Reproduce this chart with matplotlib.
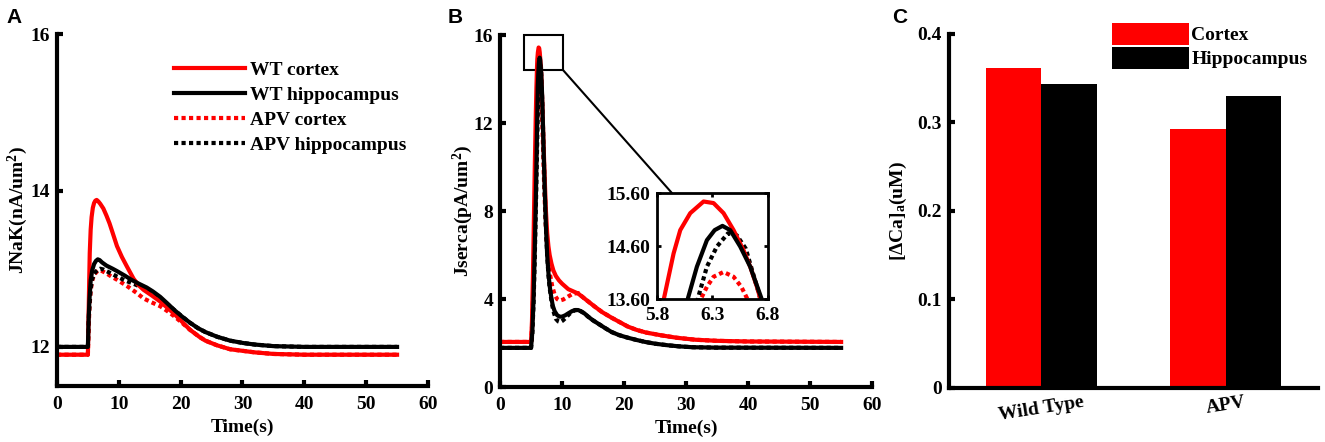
import numpy as np
import matplotlib
matplotlib.use("Agg")
import matplotlib.pyplot as plt
from matplotlib.patches import Rectangle, ConnectionPatch

plt.rcParams["font.family"] = ["Liberation Serif", "DejaVu Serif"]
plt.rcParams["font.weight"] = "bold"
plt.rcParams["axes.labelweight"] = "bold"
plt.rcParams["mathtext.fontset"] = "custom"
plt.rcParams["mathtext.rm"] = "Liberation Serif:bold"
plt.rcParams["mathtext.bf"] = "Liberation Serif:bold"
plt.rcParams["mathtext.it"] = "Liberation Serif:italic:bold"

RED = "#ff0000"
BLACK = "#000000"

# ---------------------------------------------------------------- panel A data
a_wt_ctx_t = [0, 5.0, 5.1, 5.2, 5.3, 5.45, 5.6, 5.8, 6.0, 6.2, 6.42, 6.7, 7.0, 7.5, 8.0,
              8.5, 9.0, 9.7, 10.5, 11.3, 12.4, 13.2, 14.0, 15.3, 16.7, 18.0, 19.0, 20.0,
              21.5, 23.0, 24.0, 25.9, 28.0, 30.0, 32.0, 35.0, 40.0, 55.0]
a_wt_ctx_y = [11.9, 11.9, 12.35, 12.8, 13.2, 13.5, 13.66, 13.78, 13.84, 13.87, 13.88, 13.86,
              13.83, 13.77, 13.68, 13.58, 13.46, 13.29, 13.15, 13.03, 12.87, 12.79, 12.73,
              12.66, 12.58, 12.49, 12.42, 12.34, 12.22, 12.13, 12.08, 12.02, 11.97, 11.95,
              11.93, 11.91, 11.9, 11.9]

a_wt_hip_t = [0, 5.0, 5.1, 5.25, 5.45, 5.7, 6.0, 6.3, 6.6, 6.9, 7.3, 8.0, 9.0, 9.7, 11.0,
              12.0, 13.2, 14.5, 15.5, 16.7, 17.8, 19.0, 20.2, 21.5, 22.8, 24.0, 25.9, 28.0,
              30.1, 32.0, 35.0, 40.0, 55.0]
a_wt_hip_y = [12.0, 12.0, 12.3, 12.6, 12.85, 12.98, 13.06, 13.1, 13.12, 13.11, 13.08, 13.04,
              13.0, 12.97, 12.91, 12.86, 12.81, 12.76, 12.71, 12.64, 12.56, 12.47, 12.39,
              12.31, 12.24, 12.19, 12.13, 12.08, 12.05, 12.03, 12.01, 12.0, 12.0]

a_apv_ctx_t = [0, 5.0, 5.1, 5.25, 5.45, 5.7, 6.0, 6.4, 6.8, 7.3, 8.0, 9.0, 9.7, 11.3, 12.9,
               14.0, 15.3, 16.7, 18.0, 19.0, 20.2, 21.5, 23.0, 24.0, 25.9, 28.0, 30.0, 32.0,
               35.0, 40.0, 55.0]
a_apv_ctx_y = [11.9, 11.9, 12.2, 12.5, 12.72, 12.85, 12.92, 12.96, 12.98, 12.97, 12.94, 12.89,
               12.86, 12.78, 12.69, 12.62, 12.57, 12.52, 12.45, 12.39, 12.31, 12.22, 12.13,
               12.08, 12.02, 11.97, 11.95, 11.93, 11.91, 11.9, 11.9]

a_apv_hip_t = [0, 5.0, 5.1, 5.25, 5.45, 5.7, 6.0, 6.5, 7.0, 7.5, 8.0, 9.0, 9.7, 11.0, 12.0,
               13.2, 14.5, 15.5, 16.7, 17.8, 19.0, 20.2, 21.5, 22.8, 24.0, 25.9, 28.0, 30.1,
               32.0, 35.0, 40.0, 55.0]
a_apv_hip_y = [12.0, 12.0, 12.3, 12.55, 12.75, 12.87, 12.94, 12.98, 13.0, 12.99, 12.97, 12.93,
               12.9, 12.85, 12.82, 12.78, 12.74, 12.69, 12.62, 12.55, 12.47, 12.39, 12.31,
               12.24, 12.19, 12.13, 12.08, 12.05, 12.03, 12.01, 12.0, 12.0]

# ---------------------------------------------------------------- panel B data
b_wt_ctx_t = [0, 5.0, 5.15, 5.3, 5.45, 5.6, 5.75, 5.86, 5.95, 6.01, 6.1, 6.22, 6.31, 6.4,
              6.49, 6.58, 6.64, 6.71, 6.85, 7.0, 7.2, 7.4, 7.6, 7.8, 8.0, 8.3, 8.6, 9.0,
              9.5, 10.0, 11.0, 12.6, 13.5, 14.4, 15.3, 16.5, 18.0, 19.3, 20.6, 22.0, 23.5,
              26.0, 28.5, 31.5, 35.0, 40.0, 55.0]
b_wt_ctx_y = [2.05, 2.05, 3.0, 5.0, 7.5, 10.0, 12.2, 13.58, 14.46, 14.9, 15.22, 15.44, 15.41,
              15.22, 14.9, 14.52, 14.21, 13.77, 12.6, 11.2, 9.5, 8.0, 7.0, 6.4, 6.0, 5.6, 5.3,
              5.05, 4.85, 4.7, 4.45, 4.25, 4.05, 3.85, 3.65, 3.4, 3.15, 2.95, 2.75, 2.6,
              2.48, 2.35, 2.24, 2.15, 2.1, 2.07, 2.05]

b_wt_hip_t = [0, 5.0, 5.2, 5.4, 5.6, 5.8, 5.95, 6.08, 6.16, 6.25, 6.32, 6.39, 6.46, 6.55,
              6.64, 6.74, 6.85, 7.0, 7.2, 7.4, 7.6, 7.8, 8.0, 8.25, 8.5, 8.8, 9.2, 9.6, 10.0,
              10.5, 11.0, 11.6, 12.1, 12.6, 13.0, 13.6, 14.2, 15.0, 16.0, 17.0, 18.0, 19.2,
              20.5, 22.0, 23.4, 25.0, 27.0, 28.8, 31.0, 35.0, 55.0]
b_wt_hip_y = [1.78, 1.78, 2.5, 4.0, 6.3, 9.0, 11.5, 13.62, 14.21, 14.71, 14.9, 14.98, 14.9,
              14.59, 14.21, 13.62, 12.6, 11.0, 9.0, 7.3, 6.0, 5.2, 4.6, 4.1, 3.7, 3.45, 3.27,
              3.2, 3.2, 3.26, 3.35, 3.45, 3.5, 3.5, 3.45, 3.35, 3.2, 3.03, 2.85, 2.67, 2.5,
              2.36, 2.25, 2.14, 2.05, 1.97, 1.9, 1.85, 1.81, 1.79, 1.78]

b_apv_ctx_t = [0, 5.0, 5.2, 5.4, 5.6, 5.8, 6.0, 6.2, 6.25, 6.31, 6.4, 6.49, 6.56, 6.61, 6.75,
               6.9, 7.1, 7.3, 7.5, 7.75, 8.0, 8.4, 8.8, 9.2, 9.6, 10.2, 11.0, 11.8, 12.6,
               13.5, 14.4, 15.3, 16.5, 18.0, 19.3, 20.6, 22.0, 23.5, 26.0, 28.5, 31.5, 35.0,
               40.0, 55.0]
b_apv_ctx_y = [2.05, 2.05, 2.9, 4.8, 7.3, 9.8, 12.2, 13.62, 13.83, 14.02, 14.11, 14.02, 13.83,
               13.62, 12.6, 11.2, 9.3, 7.8, 6.7, 5.8, 5.2, 4.6, 4.2, 4.0, 3.93, 3.98, 4.12,
               4.25, 4.27, 4.05, 3.85, 3.65, 3.4, 3.15, 2.95, 2.75, 2.6, 2.48, 2.35, 2.24,
               2.15, 2.1, 2.07, 2.05]

b_apv_hip_t = [0, 5.0, 5.2, 5.4, 5.6, 5.8, 6.0, 6.17, 6.25, 6.34, 6.44, 6.52, 6.6, 6.73,
               6.85, 7.0, 7.2, 7.4, 7.6, 7.8, 8.0, 8.3, 8.6, 9.0, 9.4, 9.7, 10.1, 10.6, 11.1,
               11.6, 12.1, 12.6, 13.0, 13.6, 14.2, 15.0, 16.0, 17.0, 18.0, 19.2, 20.5, 22.0,
               23.4, 25.0, 27.0, 28.8, 31.0, 35.0, 55.0]
b_apv_hip_y = [1.78, 1.78, 2.4, 3.8, 5.9, 8.5, 11.3, 13.62, 14.21, 14.59, 14.84, 14.8, 14.55,
               13.62, 12.6, 11.0, 9.0, 7.3, 6.0, 5.1, 4.5, 3.9, 3.45, 3.1, 2.98, 2.95, 3.02,
               3.15, 3.3, 3.42, 3.5, 3.5, 3.45, 3.35, 3.2, 3.03, 2.85, 2.67, 2.5, 2.36, 2.25,
               2.14, 2.05, 1.97, 1.9, 1.85, 1.81, 1.79, 1.78]

# ---------------------------------------------------------------- panel C data
groups = ["Wild Type", "APV"]
cortex_vals = [0.362, 0.293]
hippo_vals = [0.343, 0.330]

LW = 3.0
DOT = (0, (1, 0.8))


def style_axes(ax, box=False, lw=3.0):
    for side in ["top", "right"]:
        ax.spines[side].set_visible(box)
    for sp in ax.spines.values():
        sp.set_linewidth(lw)
        sp.set_capstyle("projecting")
    ax.tick_params(direction="in", length=4, width=lw, labelsize=14, pad=5,
                   top=box, right=box)
    ax.tick_params(axis="x", pad=7)
    for lab in ax.get_xticklabels() + ax.get_yticklabels():
        lab.set_fontweight("bold")


def draw_traces(ax, series):
    # dotted (APV) first, solid (WT) drawn on top
    for t, y, color, ls, label in series:
        ax.plot(t, y, color=color, lw=LW, ls=ls, label=label)


fig = plt.figure(figsize=(13.25, 4.42), dpi=100)

# ---------------------------------------------------------------- A
ax_a = fig.add_axes([0.043, 0.1267, 0.280, 0.796])
draw_traces(ax_a, [
    (a_apv_ctx_t, a_apv_ctx_y, RED, DOT, "APV cortex"),
    (a_apv_hip_t, a_apv_hip_y, BLACK, DOT, "APV hippocampus"),
    (a_wt_ctx_t, a_wt_ctx_y, RED, "-", "WT cortex"),
    (a_wt_hip_t, a_wt_hip_y, BLACK, "-", "WT hippocampus"),
])
ax_a.set_xlim(0, 60)
ax_a.set_ylim(11.5, 16)
ax_a.set_xticks([0, 10, 20, 30, 40, 50, 60])
ax_a.set_yticks([12, 14, 16])
ax_a.set_xlabel("Time(s)", fontsize=14, labelpad=4)
ax_a.set_ylabel(r"JNaK(nA/um$^{\mathbf{2}}$)", fontsize=14, labelpad=0)
style_axes(ax_a)
h, l = ax_a.get_legend_handles_labels()
order = [2, 3, 0, 1]
ax_a.legend([h[i] for i in order], [l[i] for i in order], frameon=False,
            loc="upper left", bbox_to_anchor=(0.131, 0.862), bbox_transform=fig.transFigure,
            prop={"family": "Liberation Serif", "weight": "bold", "size": 14},
            handlelength=3.65, handletextpad=0.3, labelspacing=0.38, borderpad=0,
            borderaxespad=0)

# ---------------------------------------------------------------- B
b_series = [
    (b_apv_ctx_t, b_apv_ctx_y, RED, DOT, None),
    (b_apv_hip_t, b_apv_hip_y, BLACK, DOT, None),
    (b_wt_ctx_t, b_wt_ctx_y, RED, "-", None),
    (b_wt_hip_t, b_wt_hip_y, BLACK, "-", None),
]
ax_b = fig.add_axes([0.3774, 0.1244, 0.2808, 0.796])
draw_traces(ax_b, b_series)
ax_b.set_xlim(0, 60)
ax_b.set_ylim(0, 16)
ax_b.set_xticks([0, 10, 20, 30, 40, 50, 60])
ax_b.set_yticks([0, 4, 8, 12, 16])
ax_b.set_xlabel("Time(s)", fontsize=14, labelpad=4)
ax_b.set_ylabel(r"Jserca(pA/um$^{\mathbf{2}}$)", fontsize=14, labelpad=-1)
style_axes(ax_b)
ax_b.add_patch(Rectangle((3.9, 14.4), 6.3, 1.6, fill=False, ec=BLACK, lw=1.5, clip_on=False))

ax_in = fig.add_axes([0.4958, 0.3235, 0.0838, 0.2398])
draw_traces(ax_in, b_series)
ax_in.set_xlim(5.8, 6.8)
ax_in.set_ylim(13.6, 15.6)
ax_in.set_xticks([5.8, 6.3, 6.8])
ax_in.set_yticks([13.6, 14.6, 15.6])
ax_in.set_yticklabels(["13.60", "14.60", "15.60"])
style_axes(ax_in, box=True, lw=2.0)
ax_in.tick_params(labelsize=14, length=3)
ax_in.tick_params(axis="x", pad=6)
con = ConnectionPatch(xyA=(10.2, 14.4), coordsA=ax_b.transData,
                      xyB=(0.135, 1.0), coordsB=ax_in.transAxes,
                      color=BLACK, lw=1.5)
fig.add_artist(con)

# ---------------------------------------------------------------- C
ax_c = fig.add_axes([0.7162, 0.1222, 0.2785, 0.801])
x = np.arange(1, len(groups) + 1)
w = 0.3
ax_c.bar(x - w / 2, cortex_vals, w, color=RED, label="Cortex")
ax_c.bar(x + w / 2, hippo_vals, w, color=BLACK, label="Hippocampus")
ax_c.set_xlim(0.5, 2.5)
ax_c.set_ylim(0, 0.4)
ax_c.set_yticks([0, 0.1, 0.2, 0.3, 0.4])
ax_c.set_yticklabels(["0", "0.1", "0.2", "0.3", "0.4"])
ax_c.set_xticks(x)
ax_c.set_xticklabels(groups, rotation=9)
ax_c.set_ylabel(r"[$\Delta$Ca]$_{\mathrm{a}}$(uM)", fontsize=14, labelpad=6)
style_axes(ax_c)
ax_c.tick_params(axis="x", length=0, pad=4)
ax_c.legend(frameon=False, loc="upper left", bbox_to_anchor=(0.839, 0.948),
            bbox_transform=fig.transFigure,
            prop={"family": "Liberation Serif", "weight": "bold", "size": 14},
            handlelength=4.0, handleheight=1.35, handletextpad=0.1, labelspacing=0.1,
            borderpad=0, borderaxespad=0)

# panel letters
for letter, xpos in [("A", 0.005), ("B", 0.338), ("C", 0.673)]:
    fig.text(xpos, 0.948, letter, fontsize=15, fontweight="bold",
             family="Liberation Sans", va="baseline")

fig.savefig("out.png", dpi=100)
